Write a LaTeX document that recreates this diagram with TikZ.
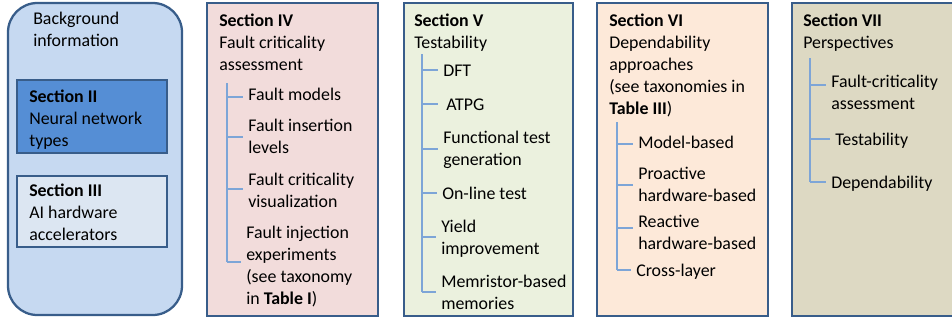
\documentclass[tikz,border=0pt]{standalone}
\usepackage{fontspec}
\setmainfont{Carlito}
\definecolor{bordc}{RGB}{56,93,138}
\definecolor{bgfill}{RGB}{198,217,241}
\definecolor{s2fill}{RGB}{85,142,213}
\definecolor{s3fill}{RGB}{220,230,242}
\definecolor{s4fill}{RGB}{242,220,219}
\definecolor{s5fill}{RGB}{235,241,222}
\definecolor{s6fill}{RGB}{253,233,217}
\definecolor{s7fill}{RGB}{221,217,195}
\definecolor{treec}{RGB}{125,165,215}
\newcommand{\mlines}[1]{\begin{tabular}[t]{@{}l@{}}#1\end{tabular}}
\begin{document}
\begin{tikzpicture}[x=0.75pt,y=-0.75pt,
  box/.style={draw=bordc,line width=1.7pt},
  txt/.style={inner xsep=3.75pt,inner ysep=0pt,anchor=base west,
    font=\fontsize{13.4}{16.5}\selectfont},
  tree/.style={draw=treec,line width=1pt}]
\clip (0,0) rectangle (952,322);
% containers
\draw[box,fill=bgfill,rounded corners=22pt] (8,3) rectangle (182,315);
\draw[box,fill=s2fill] (17,80) rectangle (167,153);
\draw[box,fill=s3fill] (17,176) rectangle (167,247);
\draw[box,fill=s4fill] (207,3) rectangle (378,316);
\draw[box,fill=s5fill] (404,3) rectangle (573,316);
\draw[box,fill=s6fill] (597,3) rectangle (768,316);
\draw[box,fill=s7fill] (792,3) rectangle (970,316);
% headers
\node[txt] (bg) at (28,24) {\mlines{Background\\information}};
\node[txt] (s2) at (24,102) {\mlines{\textbf{Section II}\\Neural network\\types}};
\node[txt] (s3) at (24,196) {\mlines{\textbf{Section III}\\AI hardware\\accelerators}};
\node[txt] (s4) at (214,26) {\mlines{\textbf{Section IV}\\Fault criticality\\assessment}};
\node[txt] (s5) at (409,26) {\mlines{\textbf{Section V}\\Testability}};
\node[txt] (s6) at (604,26) {\mlines{\textbf{Section VI}\\Dependability\\approaches\\(see taxonomies in\\\textbf{Table III})}};
\node[txt] (s7) at (798,26) {\mlines{\textbf{Section VII}\\Perspectives}};
% Section IV items
\node[txt] (f1) at (243,100) {Fault models};
\node[txt] (f2) at (243,131) {\mlines{Fault insertion\\levels}};
\node[txt] (f3) at (243,185) {\mlines{Fault criticality\\visualization}};
\node[txt] (f4) at (241,238) {\mlines{Fault injection\\experiments\\(see taxonomy\\in \textbf{Table I})}};
\coordinate (t4a) at (227,83);
\coordinate (t4b) at (227,262);
\draw[tree] (t4a) -- (t4b);
\draw[tree] (t4a |- 0,97) -- (f1.west |- 0,97);
\draw[tree] (t4a |- 0,137) -- (f2.west |- 0,137);
\draw[tree] (t4a |- 0,189) -- (f3.west |- 0,189);
\draw[tree] (t4b) -- (f4.west |- t4b);
% Section V items
\node[txt] (v1) at (438,76) {DFT};
\node[txt] (v2) at (441,110) {ATPG};
\node[txt] (v3) at (438,143) {\mlines{Functional test\\generation}};
\node[txt] (v4) at (437,199) {On-line test};
\node[txt] (v5) at (436,232) {\mlines{Yield\\improvement}};
\node[txt] (v6) at (436,287) {\mlines{Memristor-based\\memories}};
\coordinate (t5a) at (422,54);
\coordinate (t5b) at (422,292);
\draw[tree] (t5a) -- (t5b);
\draw[tree] (t5a |- 0,70) -- (v1.west |- 0,70);
\draw[tree] (t5a |- 0,104) -- (v1.west |- 0,104);
\draw[tree] (t5a |- 0,149) -- (v3.west |- 0,149);
\draw[tree] (t5a |- 0,193) -- (v4.west |- 0,193);
\draw[tree] (t5a |- 0,237) -- (v5.west |- 0,237);
\draw[tree] (t5b) -- (v6.west |- t5b);
% Section VI items
\node[txt] (d1) at (633,148) {Model-based};
\node[txt] (d2) at (633,179) {\mlines{Proactive\\hardware-based}};
\node[txt] (d3) at (633,227) {\mlines{Reactive\\hardware-based}};
\node[txt] (d4) at (631,276) {Cross-layer};
\coordinate (t6a) at (617,122);
\coordinate (t6b) at (617,270);
\draw[tree] (t6a) -- (t6b);
\draw[tree] (t6a |- 0,144) -- (d1.west |- 0,144);
\draw[tree] (t6a |- 0,185) -- (d2.west |- 0,185);
\draw[tree] (t6a |- 0,228) -- (d3.west |- 0,228);
\draw[tree] (t6b) -- (d4.west |- t6b);
% Section VII items
\node[txt] (p1) at (826,87) {\mlines{Fault-criticality\\assessment}};
\node[txt] (p2) at (830,145) {Testability};
\node[txt] (p3) at (826,188) {Dependability};
\coordinate (t7a) at (810,58);
\coordinate (t7b) at (810,182);
\draw[tree] (t7a) -- (t7b);
\draw[tree] (t7a |- 0,85) -- (p1.west |- 0,85);
\draw[tree] (t7a |- 0,139) -- (p2.west |- 0,139);
\draw[tree] (t7b) -- (p3.west |- t7b);
\end{tikzpicture}
\end{document}
